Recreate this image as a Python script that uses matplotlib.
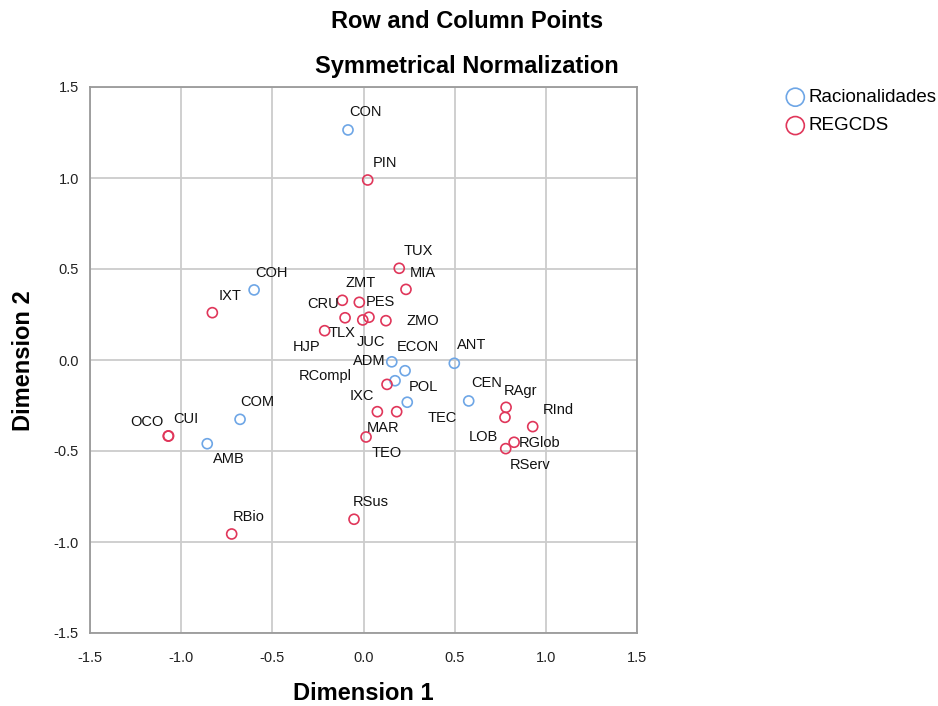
import matplotlib.pyplot as plt

plt.rcParams["font.family"] = ["Liberation Sans", "DejaVu Sans"]

# ── DATA ──────────────────────────────────────────────────────────────────────
rac_labels = ["CON", "COH", "COM", "AMB", "ADM", "ECON", "POL", "TEC", "ANT", "CEN"]
rac_dim1 = [-0.085, -0.600, -0.677, -0.857, 0.155, 0.228, 0.173, 0.240, 0.498, 0.577]
rac_dim2 = [1.264, 0.385, -0.326, -0.460, -0.010, -0.059, -0.114, -0.232, -0.018, -0.225]

reg_labels = ["PIN", "TUX", "MIA", "CRU", "ZMT", "PES", "ZMO", "TLX", "HJP", "JUC",
              "RCompl", "IXC", "MAR", "TEO", "RSus", "RBio", "IXT", "OCO", "CUI",
              "RAgr", "LOB", "RInd", "RGlob", "RServ"]
reg_dim1 = [0.023, 0.196, 0.233, -0.116, -0.023, 0.030, 0.123, -0.213, -0.101, -0.004,
            0.129, 0.076, 0.182, 0.014, -0.052, -0.723, -0.829, -1.071, -1.069,
            0.782, 0.776, 0.928, 0.826, 0.780]
reg_dim2 = [0.989, 0.504, 0.388, 0.328, 0.317, 0.235, 0.216, 0.161, 0.232, 0.220,
            -0.134, -0.284, -0.284, -0.423, -0.875, -0.956, 0.260, -0.418, -0.417,
            -0.260, -0.315, -0.366, -0.452, -0.487]

# label offsets in pixels (left edge, vertical centre) relative to the point
rac_offsets = [(1, 18), (1, 17), (0, 17), (6, -15), (-39, 1), (-8, 24),
               (14, -6), (20, -16), (3, 18), (3, 18)]
reg_offsets = [(5, 17), (4, 17), (4, 16), (-35, -4), (-14, 19), (-3, 15), (21, 0),
               (4, -2), (-52, -29), (-6, -22), (-88, 8), (-28, 16), (-30, -16),
               (6, -16), (-1, 17), (1, 17), (6, 17), (-38, 14), (5, 17),
               (-2, 16), (-36, -20), (10, 17), (5, -1), (4, -16)]

ticks = [-1.5, -1.0, -0.5, 0.0, 0.5, 1.0, 1.5]

# ── STYLE ─────────────────────────────────────────────────────────────────────
c_rac = "#6ea6e6"
c_reg = "#e0365a"
c_grid = "#cccccc"
c_spine = "#9a9a9a"

fig = plt.figure(figsize=(9.38, 7.06), dpi=100)
ax = fig.add_axes([90 / 938, 73 / 706, 547 / 938, 546 / 706])

ax.scatter(rac_dim1, rac_dim2, s=52, facecolors="none", edgecolors=c_rac,
           linewidths=1.2, zorder=3, label="Racionalidades")
ax.scatter(reg_dim1, reg_dim2, s=52, facecolors="none", edgecolors=c_reg,
           linewidths=1.2, zorder=3, label="REGCDS")

for lab, x, y, (dx, dy) in zip(rac_labels, rac_dim1, rac_dim2, rac_offsets):
    ax.annotate(lab, (x, y), xytext=(dx, dy), textcoords="offset pixels",
                ha="left", va="center", fontsize=10.5, color="#111111")
for lab, x, y, (dx, dy) in zip(reg_labels, reg_dim1, reg_dim2, reg_offsets):
    ax.annotate(lab, (x, y), xytext=(dx, dy), textcoords="offset pixels",
                ha="left", va="center", fontsize=10.5, color="#111111")

ax.set_xlim(-1.5, 1.5)
ax.set_ylim(-1.5, 1.5)
ax.set_xticks(ticks)
ax.set_yticks(ticks)
ax.set_xticklabels([f"{t:.1f}" for t in ticks])
ax.set_yticklabels([f"{t:.1f}" for t in ticks])
ax.tick_params(length=0, labelsize=10.5, labelcolor="#222222")
ax.tick_params(axis="x", pad=13)
ax.tick_params(axis="y", pad=8)
ax.grid(color=c_grid, lw=1.3)
ax.set_axisbelow(True)
for sp in ax.spines.values():
    sp.set_color(c_spine)
    sp.set_linewidth(1.3)

# titles and axis labels
fig.text(467 / 938, 1 - 21 / 706, "Row and Column Points", ha="center", va="center",
         fontsize=17, fontweight="bold")
fig.text(467 / 938, 1 - 67 / 706, "Symmetrical Normalization", ha="center", va="center",
         fontsize=17, fontweight="bold")
fig.text(363 / 938, 1 - 693 / 706, "Dimension 1", ha="center", va="center",
         fontsize=17, fontweight="bold")
fig.text(24 / 938, 1 - 361 / 706, "Dimension 2", ha="center", va="center",
         fontsize=17, fontweight="bold", rotation=90)

# legend
leg = fig.legend(loc="upper left", bbox_to_anchor=(785 / 938, 1 - 89 / 706),
                 frameon=False, fontsize=13.5, markerscale=1.8, handletextpad=0.15,
                 labelspacing=0.6, borderpad=0, borderaxespad=0, handlelength=1.1)

fig.savefig("out.png", dpi=100)
